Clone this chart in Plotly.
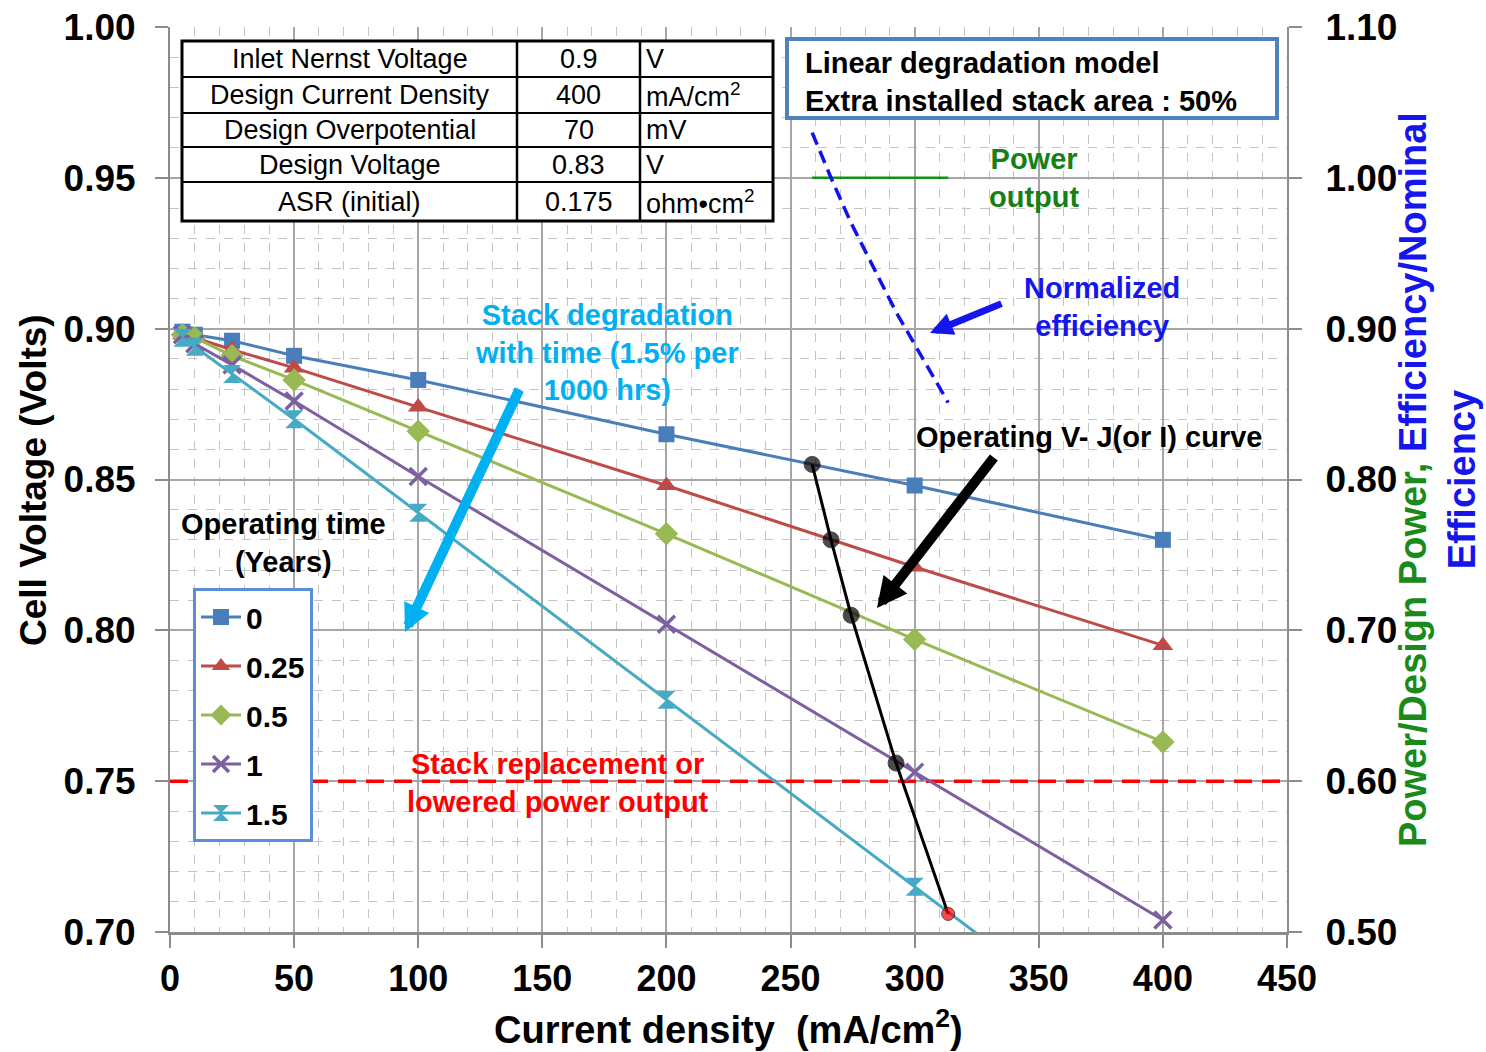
import plotly.graph_objects as go

# ---------------- data ----------------
current = [5, 10, 25, 50, 100, 200, 300, 400]
years = ["0", "0.25", "0.5", "1", "1.5"]
v_0 = [0.899, 0.898, 0.896, 0.891, 0.883, 0.865, 0.848, 0.830]
v_025 = [0.898, 0.897, 0.893, 0.887, 0.874, 0.848, 0.821, 0.795]
v_05 = [0.898, 0.897, 0.891, 0.883, 0.866, 0.832, 0.797, 0.763]
v_1 = [0.898, 0.895, 0.888, 0.876, 0.851, 0.802, 0.753, 0.704]
v_15 = [0.897, 0.894, 0.885, 0.870, 0.839, 0.777, 0.715, 0.653]

op_current = [258.7, 266.3, 274.4, 292.5, 313.5]
op_voltage = [0.855, 0.830, 0.805, 0.756, 0.706]
power_ratio = [1.00, 1.00, 1.00, 1.00, 1.00]
efficiency_ratio = [1.030, 1.000, 0.970, 0.911, 0.851]

replacement_current = [0, 450]
replacement_voltage = [0.75, 0.75]

table_rows = [
    ["Inlet Nernst Voltage", "0.9", "V"],
    ["Design Current Density", "400", "mA/cm<sup>2</sup>"],
    ["Design Overpotential", "70", "mV"],
    ["Design Voltage", "0.83", "V"],
    ["ASR (initial)", "0.175", "ohm\u2022cm<sup>2</sup>"],
]

# ---------------- layout helpers ----------------
W, H = 1486, 1052
L, R, T, B = 170, 1287, 27, 932
FONT = "Liberation Sans, Arial, sans-serif"


def px(x):
    return (x - L) / (R - L)


def py(y):
    return (B - y) / (B - T)


series = [
    (years[0], v_0, "#4a7ebb", dict(symbol="square", size=16)),
    (years[1], v_025, "#be4b48", dict(symbol="triangle-up", size=18)),
    (years[2], v_05, "#98b954", dict(symbol="diamond", size=18)),
    (years[3], v_1, "#7d60a0", dict(symbol="x-thin", size=17, line=dict(width=3.5, color="#7d60a0"))),
    (years[4], v_15, "#46aac5", dict(symbol="hourglass", size=18)),
]

fig = go.Figure()

fig.add_trace(go.Scatter(
    x=replacement_current, y=replacement_voltage, mode="lines",
    line=dict(color="#ff0000", width=3.5, dash="18px,10px"),
    showlegend=False, hoverinfo="skip"))

for i, (name, vals, col, mk) in enumerate(series):
    fig.add_trace(go.Scatter(
        x=current, y=vals, name=name, mode="lines+markers",
        line=dict(color=col, width=3),
        marker=dict(color=col, **mk),
        legendgroup=f"g{i}"))

fig.add_trace(go.Scatter(
    x=op_current, y=op_voltage, mode="lines+markers",
    line=dict(color="black", width=3),
    marker=dict(color=["black"] * 4 + ["red"], size=[16, 16, 16, 16, 13]),
    showlegend=False))

fig.add_trace(go.Scatter(
    x=op_current, y=power_ratio, mode="lines", yaxis="y2",
    line=dict(color="#139113", width=2.5), showlegend=False))

fig.add_trace(go.Scatter(
    x=op_current, y=efficiency_ratio, mode="lines", yaxis="y2",
    line=dict(color="#1212ee", width=3.5, dash="13px,7px"), showlegend=False))

shapes = []
# table
tx = [182, 517, 640, 773]
ty = [41, 77, 113, 147, 182, 221]
shapes.append(dict(type="rect", xref="paper", yref="paper",
                   x0=px(tx[0]), x1=px(tx[-1]), y0=py(ty[-1]), y1=py(ty[0]),
                   line=dict(color="black", width=3), fillcolor="white", layer="above"))
for xv in tx[1:-1]:
    shapes.append(dict(type="line", xref="paper", yref="paper",
                       x0=px(xv), x1=px(xv), y0=py(ty[-1]), y1=py(ty[0]),
                       line=dict(color="black", width=2.5), layer="above"))
for yv in ty[1:-1]:
    shapes.append(dict(type="line", xref="paper", yref="paper",
                       x0=px(tx[0]), x1=px(tx[-1]), y0=py(yv), y1=py(yv),
                       line=dict(color="black", width=2), layer="above"))
# model box
shapes.append(dict(type="rect", xref="paper", yref="paper",
                   x0=px(787), x1=px(1277), y0=py(118), y1=py(39),
                   line=dict(color="#4f81bd", width=4), fillcolor="white", layer="above"))

ann = []
for r, row in enumerate(table_rows):
    yc = py((ty[r] + ty[r + 1]) / 2)
    ann.append(dict(x=px((tx[0] + tx[1]) / 2), y=yc, text=row[0], xanchor="center"))
    ann.append(dict(x=px((tx[1] + tx[2]) / 2), y=yc, text=row[1], xanchor="center"))
    ann.append(dict(x=px(tx[2] + 4), y=yc, text=row[2], xanchor="left"))
for a in ann:
    a.update(xref="paper", yref="paper", yanchor="middle", showarrow=False,
             font=dict(family=FONT, size=27, color="black"))


def text_ann(x, y, text, color, size=30, align="center", xanchor="center"):
    return dict(xref="paper", yref="paper", x=px(x), y=py(y), text=text,
                showarrow=False, align=align, xanchor=xanchor, yanchor="middle",
                font=dict(family=FONT, size=size, color=color, weight="bold"))


ann.append(text_ann(803, 82, "Linear degradation model<br>Extra installed stack area : 50%",
                    "black", 29, align="left", xanchor="left"))
ann.append(text_ann(1034, 178, "Power<br>output", "#158015", 29))
ann.append(text_ann(1102, 307, "Normalized<br>efficiency", "#1515ee", 29))
ann.append(text_ann(607, 352, "Stack degradation<br>with time (1.5% per<br>1000 hrs)", "#00b0f0", 29))
ann.append(text_ann(1089, 437, "Operating V- J(or I) curve", "black", 29))
ann.append(text_ann(283, 543, "Operating time<br>(Years)", "black", 29))
ann.append(text_ann(558, 783, "Stack replacement or<br>lowered power output", "#ff0000", 29))

# axis titles
ann.append(dict(xref="paper", yref="paper", x=px(728), y=py(1027), text="Current density  (mA/cm<sup>2</sup>)",
                showarrow=False, xanchor="center", yanchor="middle",
                font=dict(family=FONT, size=38, color="black", weight="bold")))
ann.append(dict(xref="paper", yref="paper", x=px(33), y=py(480), text="Cell Voltage (Volts)",
                showarrow=False, textangle=-90, xanchor="center", yanchor="middle",
                font=dict(family=FONT, size=37, color="black", weight="bold")))
ann.append(dict(xref="paper", yref="paper", x=px(1437), y=py(480),
                text="<span style='color:#1a8a1a'>Power/Design Power,</span> "
                     "<span style='color:#1515ee'>Efficiency/Nominal</span><br>"
                     "<span style='color:#1515ee'>Efficiency</span>",
                showarrow=False, textangle=-90, xanchor="center", yanchor="middle",
                font=dict(family=FONT, size=38, color="#1515ee", weight="bold")))

# arrows
def arrow(hx, hy, tx_, ty_, color, width, size):
    return dict(xref="paper", yref="paper", x=px(hx), y=py(hy), ax=tx_ - hx, ay=ty_ - hy,
                axref="pixel", ayref="pixel", text="", showarrow=True, arrowhead=2,
                arrowcolor=color, arrowwidth=width, arrowsize=size, standoff=0, startstandoff=0)


ann.append(arrow(405, 632, 520, 388, "#00b0f0", 10, 0.55))
ann.append(arrow(877, 608, 995, 456, "black", 10, 0.6))
ann.append(arrow(930, 333, 1003, 303, "#1515ee", 7, 0.65))

fig.update_layout(
    width=W, height=H,
    margin=dict(l=L, r=W - R, t=T, b=H - B, autoexpand=False),
    paper_bgcolor="white", plot_bgcolor="white",
    font=dict(family=FONT, color="black"),
    shapes=shapes, annotations=ann,
    legend=dict(x=px(193), y=py(588), xanchor="left", yanchor="top",
                bgcolor="white", bordercolor="#5a8ed8", borderwidth=3,
                font=dict(family=FONT, size=30, color="black", weight="bold"),
                tracegroupgap=7, itemwidth=40),
    xaxis=dict(range=[0, 450], dtick=50, tick0=0, automargin=False,
               showgrid=True, gridcolor="#a6a6a6", gridwidth=1.5,
               minor=dict(dtick=10, showgrid=True, gridcolor="#c4c4c4", griddash="dash", gridwidth=1),
               showline=True, linecolor="#8c8c8c", linewidth=3,
               ticks="outside", ticklen=13, tickwidth=2, tickcolor="#8c8c8c",
               ticklabelstandoff=0,
               tickfont=dict(family=FONT, size=36, color="black", weight="bold"),
               zeroline=False),
    yaxis=dict(range=[0.70, 1.00], dtick=0.05, tick0=0.70, tickformat=".2f", automargin=False,
               showgrid=True, gridcolor="#a6a6a6", gridwidth=1.5,
               minor=dict(dtick=0.01, showgrid=True, gridcolor="#c4c4c4", griddash="dash", gridwidth=1),
               showline=True, linecolor="#8c8c8c", linewidth=2,
               ticks="outside", ticklen=13, tickwidth=2, tickcolor="#8c8c8c",
               ticklabelstandoff=12,
               tickfont=dict(family=FONT, size=37, color="black", weight="bold"),
               zeroline=False),
    yaxis2=dict(range=[0.50, 1.10], dtick=0.1, tick0=0.5, tickformat=".2f", automargin=False,
                overlaying="y", side="right", showgrid=False,
                showline=True, linecolor="#8c8c8c", linewidth=2,
                ticks="outside", ticklen=13, tickwidth=2, tickcolor="#8c8c8c",
                ticklabelstandoff=16,
                tickfont=dict(family=FONT, size=37, color="black", weight="bold"),
                zeroline=False),
)

fig.write_html("out.html")
